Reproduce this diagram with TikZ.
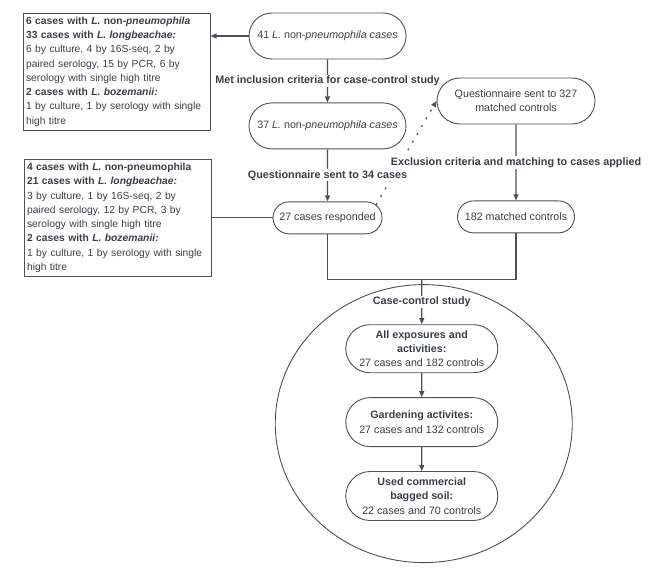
\documentclass[tikz,border=0pt]{standalone}
\usepackage{fontspec}
\setmainfont{Liberation Sans}
\usepackage{xcolor}
\usetikzlibrary{
	arrows.meta,
	calc,
	positioning,
	shapes.misc,
	shapes.geometric,
	}
\definecolor{ink}{HTML}{3A3F47}
\definecolor{edge}{HTML}{4B5059}

\begin{document}
\begin{tikzpicture}[x=1pt, y=1pt,
	every node/.style={text=ink, font=\fontsize{10.7}{14.3}\selectfont},
	stadium/.style={draw=edge, line width=0.9pt, rounded rectangle, align=center, inner sep=2pt},
	infobox/.style={draw=edge, line width=1pt, align=left, text width=181pt, inner sep=3pt, minimum height=117pt, font=\fontsize{10.3}{14.3}\selectfont},
	flowlabel/.style={fill=white, font=\fontsize{10.8}{12}\selectfont\bfseries, inner sep=1pt},
	flowline/.style={draw=edge, line width=1.2pt},
	flowarrow/.style={flowline, -{Triangle[length=6pt, width=5pt]}},
	]
	\useasboundingbox (0,0) rectangle (660,-575);
	% cases
	\node[stadium, minimum width=161pt, minimum height=46pt] (n41) at (327.5,-36) {41 \textit{L.} non-\textit{pneumophila cases}};
	\node[stadium, minimum width=161pt, minimum height=46pt, below=43pt of n41] (n37) {37 \textit{L.} non-\textit{pneumophila cases}};
	\node[stadium, minimum width=113pt, minimum height=32pt, below=52pt of n37] (n27) {27 cases responded};
	% controls
	\node[stadium, minimum width=162pt, minimum height=46pt] (nQ) at (516,-101) {Questionnaire sent to 327\\matched controls};
	\node[stadium, minimum width=121pt, minimum height=32pt, below=76pt of nQ] (n182) {182 matched controls};
	% species boxes
	\node[infobox, anchor=north east] (box1) at ($(n41.west |- n41.north)+(-38,0)$) {%
		\textbf{6 cases with \textit{L.} non-\textit{pneumophila}}\\
		\textbf{33 cases with \textit{L. longbeachae:}}\\
		6 by culture, 4 by 16S-seq, 2 by\\
		paired serology, 15 by PCR, 6 by\\
		serology with single high titre\\
		\textbf{2 cases with \textit{L. bozemanii:}}\\
		1 by culture, 1 by serology with single\\
		high titre};
	\node[infobox, left=61pt of n27] (box2) {%
		\textbf{4 cases with \textit{L.} non-pneumophila}\\
		\textbf{21 cases with \textit{L. longbeachae:}}\\
		3 by culture, 1 by 16S-seq, 2 by\\
		paired serology, 12 by PCR, 3 by\\
		serology with single high titre\\
		\textbf{2 cases with \textit{L. bozemanii:}}\\
		1 by culture, 1 by serology with single\\
		high titre};
	% case-control study
	\draw[flowline] (n27.south) -- ++(0,-45) coordinate (barL) -| (n182.south);
	\coordinate (barM) at ($(barL)!0.5!(barL -| n182.south)$);
	\node[stadium, minimum width=156pt, minimum height=48pt, below=45pt of barM] (nAll) {\textbf{All exposures and}\\\textbf{activities:}\\27 cases and 182 controls};
	\node[stadium, minimum width=156pt, minimum height=49pt, below=24pt of nAll] (nGard) {\textbf{Gardening activites:}\\27 cases and 132 controls};
	\node[stadium, minimum width=156pt, minimum height=49pt, below=24pt of nGard] (nSoil) {\textbf{Used commercial}\\\textbf{bagged soil:}\\22 cases and 70 controls};
	\node[draw=edge, line width=0.9pt, ellipse, minimum width=297pt, minimum height=278pt, inner sep=0pt] (study) at ($(nGard)+(2,-1.5)$) {};
	% connectors
	\draw[flowarrow, dash pattern=on 2pt off 7pt] (n27.15) -- (nQ.west);
	\draw[flowarrow] (n41.west) -- (n41.west -| box1.east);
	\draw[flowarrow] (n41) -- node[flowlabel] {Met inclusion criteria for case-control study} (n37);
	\draw[flowarrow] (n37) -- node[flowlabel] {Questionnaire sent to 34 cases} (n27);
	\draw[flowline] (n27.west -| box2.east) -- (n27.west);
	\draw[flowarrow] (nQ) -- node[flowlabel] {Exclusion criteria and matching to cases applied} (n182);
	\draw[flowarrow] (barM) -- node[flowlabel] {Case-control study} (nAll);
	\draw[flowarrow] (nAll) -- (nGard);
	\draw[flowarrow] (nGard) -- (nSoil);
\end{tikzpicture}
\end{document}
